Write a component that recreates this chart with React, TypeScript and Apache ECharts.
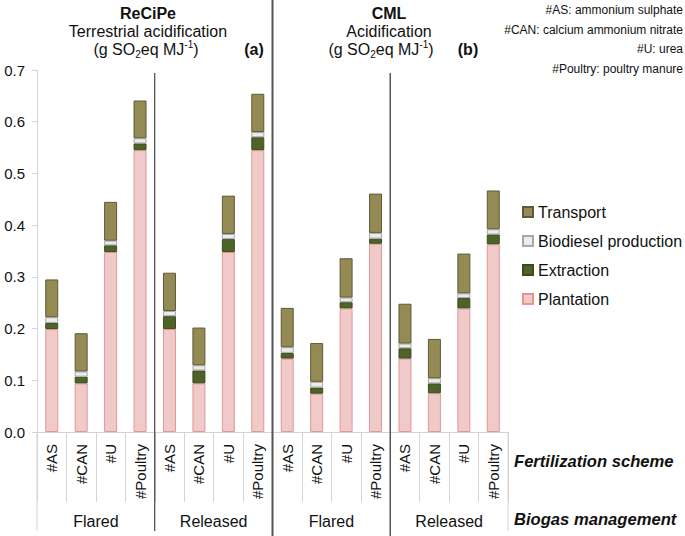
import React, { useEffect, useRef } from "react";
import * as echarts from "echarts";

const schemes = ["#AS", "#CAN", "#U", "#Poultry"];
const groups = ["Flared", "Released", "Flared", "Released"];
const seriesNames = ["Plantation", "Extraction", "Biodiesel production", "Transport"];
const yTicks = [0, 0.1, 0.2, 0.3, 0.4, 0.5, 0.6, 0.7];

const plantation = [0.199, 0.094, 0.348, 0.545, 0.199, 0.094, 0.348, 0.545, 0.142, 0.074, 0.239, 0.364, 0.142, 0.075, 0.239, 0.363];
const extraction = [0.012, 0.013, 0.013, 0.013, 0.025, 0.025, 0.025, 0.025, 0.011, 0.012, 0.012, 0.010, 0.020, 0.019, 0.020, 0.019];
const biodiesel = [0.011, 0.010, 0.009, 0.010, 0.010, 0.010, 0.010, 0.010, 0.011, 0.011, 0.009, 0.011, 0.009, 0.010, 0.009, 0.010];
const transport = [0.073, 0.074, 0.075, 0.073, 0.074, 0.073, 0.074, 0.074, 0.076, 0.075, 0.076, 0.076, 0.077, 0.076, 0.077, 0.075];

const notes = ["#AS: ammonium sulphate", "#CAN: calcium ammonium nitrate", "#U: urea", "#Poultry: poultry manure"];

const FONT = "Arial, Liberation Sans, sans-serif";

export default function App() {
  const ref = useRef<HTMLDivElement>(null);

  useEffect(() => {
    if (!ref.current) return;
    const chart = echarts.init(ref.current, null, { renderer: "svg" });

    const gl = 37, gt = 70, gw = 471, gh = 362;
    const n = groups.length * schemes.length;
    const xb = (i: number) => gl + (i * gw) / n;
    const cats = groups.flatMap((g, gi) => schemes.map((s) => `${gi}|${s}`));

    const colors = {
      Plantation: { fill: "#f0c9c9", border: "#e39797" },
      Extraction: { fill: "#4f6228", border: "#3d4c1f" },
      "Biodiesel production": { fill: "#ececec", border: "#a8a8a8" },
      Transport: { fill: "#948a54", border: "#5f583a" },
    } as Record<string, { fill: string; border: string }>;
    const values = [plantation, extraction, biodiesel, transport];

    const unitText = (cx: number, y: number) => ({
      type: "text",
      x: cx,
      y,
      style: {
        text: "(g SO{sub|2}eq MJ{sup|-1})",
        fontSize: 16,
        fontFamily: FONT,
        fill: "#111",
        align: "center",
        verticalAlign: "middle",
        lineHeight: 20,
        rich: {
          sub: { fontSize: 10, fontFamily: FONT, lineHeight: 10, verticalAlign: "bottom", fill: "#111" },
          sup: { fontSize: 10, fontFamily: FONT, lineHeight: 10, verticalAlign: "top", fill: "#111" },
        },
      },
    });

    const txt = (x: number, y: number, text: string, extra: any = {}) => ({
      type: "text",
      x,
      y,
      style: {
        text,
        fontSize: 16,
        fontFamily: FONT,
        fill: "#111",
        align: "center",
        verticalAlign: "middle",
        ...extra,
      },
    });

    const vline = (x: number, y1: number, y2: number, stroke: string, lineWidth: number) => ({
      type: "line",
      shape: { x1: x, y1, x2: x, y2 },
      style: { stroke, lineWidth },
      z: 10,
    });

    const graphics: any[] = [
      txt(148, 13, "ReCiPe", { fontWeight: "bold" }),
      txt(148, 31, "Terrestrial acidification"),
      unitText(146, 49),
      txt(254, 49, "(a)", { fontWeight: "bold" }),
      txt(389, 13, "CML", { fontWeight: "bold" }),
      txt(389, 31, "Acidification"),
      unitText(381, 49),
      txt(468, 49, "(b)", { fontWeight: "bold" }),
      ...notes.map((t, i) =>
        txt(683, 10 + i * 19.7, t, { fontSize: 12, align: "right" })
      ),
      vline(xb(4), 73, 531, "#222", 1),
      vline(xb(8), 0, 536, "#555", 2),
      vline(xb(12), 73, 536, "#555", 1.5),
      vline(gl, gt + gh, 531, "#d4d4d4", 1),
      vline(gl + gw, gt + gh, 531, "#d4d4d4", 1),
      ...groups.map((g, gi) => txt((xb(gi * 4) + xb(gi * 4 + 4)) / 2, 521, g)),
      txt(514, 461, "Fertilization scheme", { fontSize: 16.6, fontWeight: "bold", fontStyle: "italic", align: "left" }),
      txt(514, 519, "Biogas management", { fontSize: 16.6, fontWeight: "bold", fontStyle: "italic", align: "left" }),
    ];

    chart.setOption({
      animation: false,
      textStyle: { fontFamily: FONT },
      grid: { left: gl, top: gt, width: gw, height: gh, containLabel: false },
      legend: {
        orient: "vertical",
        left: 517,
        top: 199,
        itemWidth: 10,
        itemHeight: 10,
        itemGap: 13,
        icon: "rect",
        data: ["Transport", "Biodiesel production", "Extraction", "Plantation"],
        textStyle: { fontSize: 16, color: "#111", fontFamily: FONT },
      },
      xAxis: {
        type: "category",
        data: cats,
        axisLine: { lineStyle: { color: "#d4d4d4", width: 1 } },
        axisTick: { show: true, length: 70, interval: 0, lineStyle: { color: "#d4d4d4" } },
        axisLabel: {
          rotate: 90,
          interval: 0,
          margin: 12,
          fontSize: 15,
          color: "#111",
          fontFamily: FONT,
          formatter: (v: string) => v.split("|")[1],
        },
      },
      yAxis: {
        type: "value",
        min: yTicks[0],
        max: yTicks[yTicks.length - 1],
        interval: 0.1,
        axisLine: { show: true, lineStyle: { color: "#d4d4d4" } },
        axisTick: { show: true, length: 5, lineStyle: { color: "#d4d4d4" } },
        splitLine: { show: false },
        axisLabel: {
          fontSize: 15,
          color: "#111",
          margin: 12,
          fontFamily: FONT,
          formatter: (v: number) => v.toFixed(1),
        },
      },
      series: seriesNames.map((name, si) => ({
        name,
        type: "bar",
        stack: "total",
        barWidth: 13,
        data: values[si],
        itemStyle: {
          color: colors[name].fill,
          borderColor: colors[name].border,
          borderWidth: 1,
        },
      })),
      graphic: graphics,
    });

    return () => chart.dispose();
  }, []);

  return <div ref={ref} style={{ width: 685, height: 536, position: "absolute", left: 0, top: 0 }} />;
}
